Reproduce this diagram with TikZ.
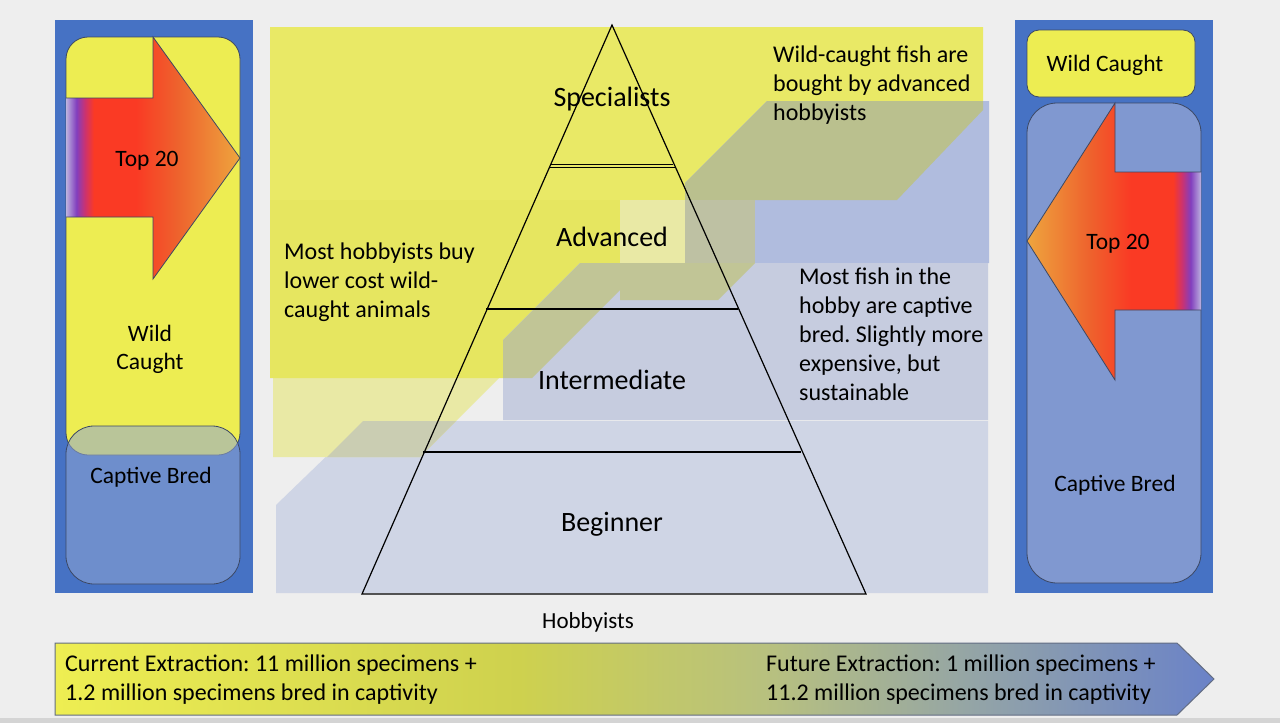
\documentclass[tikz,border=0pt]{standalone}
\usepackage{fontspec}
\setmainfont{Carlito}
\frenchspacing
\definecolor{bgc}{RGB}{238,238,238}
\definecolor{panelblue}{RGB}{70,114,196}
\definecolor{ylw}{RGB}{237,237,82}
\definecolor{cbred}{RGB}{144,165,212}
\definecolor{innerblue}{RGB}{128,152,208}
\definecolor{outl}{RGB}{60,72,100}
\definecolor{ybright}{RGB}{233,233,102}
\definecolor{ybright2}{RGB}{230,230,96}
\definecolor{ypale}{RGB}{233,233,165}
\definecolor{oliveA}{RGB}{186,192,142}
\definecolor{oliveB}{RGB}{190,193,163}
\definecolor{oliveC}{RGB}{193,197,150}
\definecolor{oliveD}{RGB}{202,205,178}
\definecolor{blueA}{RGB}{176,188,222}
\definecolor{blueB}{RGB}{198,204,223}
\definecolor{blueC}{RGB}{207,213,229}
\definecolor{lav}{RGB}{188,178,222}
\definecolor{purp}{RGB}{130,62,190}
\definecolor{rpurp}{RGB}{205,50,110}
\definecolor{ared}{RGB}{250,58,36}
\definecolor{redor}{RGB}{238,98,45}
\definecolor{orng}{RGB}{238,165,62}
\definecolor{by1}{RGB}{238,238,82}
\definecolor{by2}{RGB}{206,209,78}
\definecolor{by3}{RGB}{183,192,128}
\definecolor{by4}{RGB}{146,163,168}
\definecolor{by5}{RGB}{106,130,200}
\pgfdeclarehorizontalshading{toparrow}{100bp}{color(0bp)=(lav); color(25bp)=(lav); color(28bp)=(purp); color(30.5bp)=(rpurp); color(33bp)=(ared); color(45bp)=(ared); color(57bp)=(redor); color(75bp)=(orng); color(100bp)=(orng)}
\pgfdeclarehorizontalshading{bottomarrow}{100bp}{color(0bp)=(by1); color(25bp)=(by1); color(45bp)=(by2); color(56bp)=(by3); color(65bp)=(by4); color(75bp)=(by5); color(100bp)=(by5)}
\begin{document}
\begin{tikzpicture}[x=1pt,y=-1pt,
  lbl/.style={font=\fontsize{23.5}{28.5}\selectfont, inner sep=0pt, text=black},
  side/.style={font=\fontsize{24}{29}\selectfont, align=left, inner sep=0pt, text=black},
  pyr/.style={font=\fontsize{28}{32}\selectfont, inner sep=0pt, text=black},
  bot/.style={font=\fontsize{24}{29}\selectfont, align=left, inner sep=0pt, text=black},
  thinout/.style={draw=outl, line width=0.8pt},
  pline/.style={draw=black, line width=1.2pt}]
\useasboundingbox (0,0) rectangle (1280,723);
\fill[bgc] (0,0) rectangle (1280,723);
\fill[black!17] (0,717.5) rectangle (1280,723);

% ---------- central callout areas ----------
\fill[blueC] (363,421) -- (988,421) -- (988,593) -- (276,593) -- (276,505) -- cycle;
\fill[ypale] (273,378) -- (499,378) -- (420,457) -- (273,457) -- cycle;
\fill[oliveD] (363,421) -- (456,421) -- (420,457) -- (327,457) -- cycle;
\fill[ybright] (270,27) -- (983,27) -- (983,110) -- (897,200) -- (270,200) -- cycle;
\fill[ybright2] (270,200) -- (620,200) -- (620,290) -- (532,378) -- (270,378) -- cycle;
\fill[ypale] (620,200) -- (755,200) -- (755,263) -- (718,300) -- (620,300) -- cycle;
\fill[blueA] (767,101) -- (989,101) -- (989,263) -- (685,263) -- (685,183) -- cycle;
\fill[oliveA] (767,101) -- (983,101) -- (983,110) -- (897,200) -- (685,200) -- (685,183) -- cycle;
\fill[oliveB] (685,200) rectangle (755,263);
\fill[blueB] (580,263) -- (988,263) -- (988,420) -- (503,420) -- (503,340) -- cycle;
\fill[oliveC] (580,263) -- (755,263) -- (718,300) -- (620,300) -- (620,290) -- (532,378) -- (503,378) -- (503,340) -- cycle;

% ---------- pyramid ----------
\coordinate (apex) at (612,25);
\coordinate (bl) at (362,594);
\coordinate (br) at (866,594);
\draw[pline, line join=miter] (apex) -- (bl) -- (br) -- cycle;
\draw[pline] (550.6,164.6) -- (673.4,164.6);
\draw[pline] (549.3,167.6) -- (674.7,167.6);
\draw[pline] (486.2,309) -- (737.8,309);
\draw[pline] (423.3,452) -- (800.7,452);

\node[pyr, anchor=base] (spec) at (612,106) {Specialists};
\node[pyr, anchor=base] (adv) at (612,246) {Advanced};
\node[pyr, anchor=base] (inter) at (612,389) {Intermediate};
\node[pyr, anchor=base] (beg) at (612,531) {Beginner};
\node[lbl, anchor=base, font=\fontsize{23}{26}\selectfont] (hob) at (588,628) {Hobbyists};

\node[side, anchor=base west] (noteL) at (284,317) {Most hobbyists buy\\lower cost wild-\\caught animals};
\node[side, anchor=base west] (noteTR) at (773,120) {Wild-caught fish are\\bought by advanced\\hobbyists};
\node[side, anchor=base west] (noteR) at (799,400) {Most fish in the\\hobby are captive\\bred. Slightly more\\expensive, but\\sustainable};

% ---------- left panel ----------
\fill[panelblue] (55,20) rectangle (253,593);
\filldraw[fill=ylw, thinout, rounded corners=22pt] (66,37) rectangle (240,455);
\path[shade, shading=toparrow] (66,98) -- (153,98) -- (153,37) -- (240,158) -- (153,279) -- (153,217) -- (66,217) -- cycle;
\draw[thinout] (66,98) -- (153,98) -- (153,37) -- (240,158) -- (153,279) -- (153,217) -- (66,217);
\filldraw[fill=cbred, fill opacity=0.55, thinout, rounded corners=28pt] (66,426) rectangle (240,584);
\node[lbl, anchor=base] (tL) at (147,166) {Top 20};
\node[lbl, anchor=base, align=center] (wcL) at (150,369.5) {Wild\\Caught};
\node[lbl, anchor=base] (cbL) at (151,483) {Captive Bred};

% ---------- right panel ----------
\fill[panelblue] (1015,20) rectangle (1213,593);
\filldraw[fill=innerblue, thinout, rounded corners=30pt] (1027,103) rectangle (1201,583);
\filldraw[fill=ylw, thinout, rounded corners=12pt] (1027,30) rectangle (1195,97);
\path[shade, shading=toparrow, shading angle=180] (1201,172) -- (1115,172) -- (1115,103) -- (1027,241) -- (1115,380) -- (1115,310) -- (1201,310) -- cycle;
\draw[thinout] (1201,172) -- (1115,172) -- (1115,103) -- (1027,241) -- (1115,380) -- (1115,310) -- (1201,310);
\node[lbl, anchor=base] (wcR) at (1105,71) {Wild Caught};
\node[lbl, anchor=base] (tR) at (1118,249) {Top 20};
\node[lbl, anchor=base] (cbR) at (1115,491) {Captive Bred};

% ---------- bottom arrow ----------
\path[shade, shading=bottomarrow] (55,643) -- (1177,643) -- (1214,679) -- (1177,715) -- (55,715) -- cycle;
\draw[draw=outl!80, line width=1pt] (55,643) -- (1177,643) -- (1214,679) -- (1177,715) -- (55,715) -- cycle;
\node[bot, anchor=base west] (cur) at (65,700) {Current Extraction: 11 million specimens +\\1.2 million specimens bred in captivity};
\node[bot, anchor=base west] (fut) at (766,700) {Future Extraction: 1 million specimens +\\11.2 million specimens bred in captivity};
\end{tikzpicture}
\end{document}
